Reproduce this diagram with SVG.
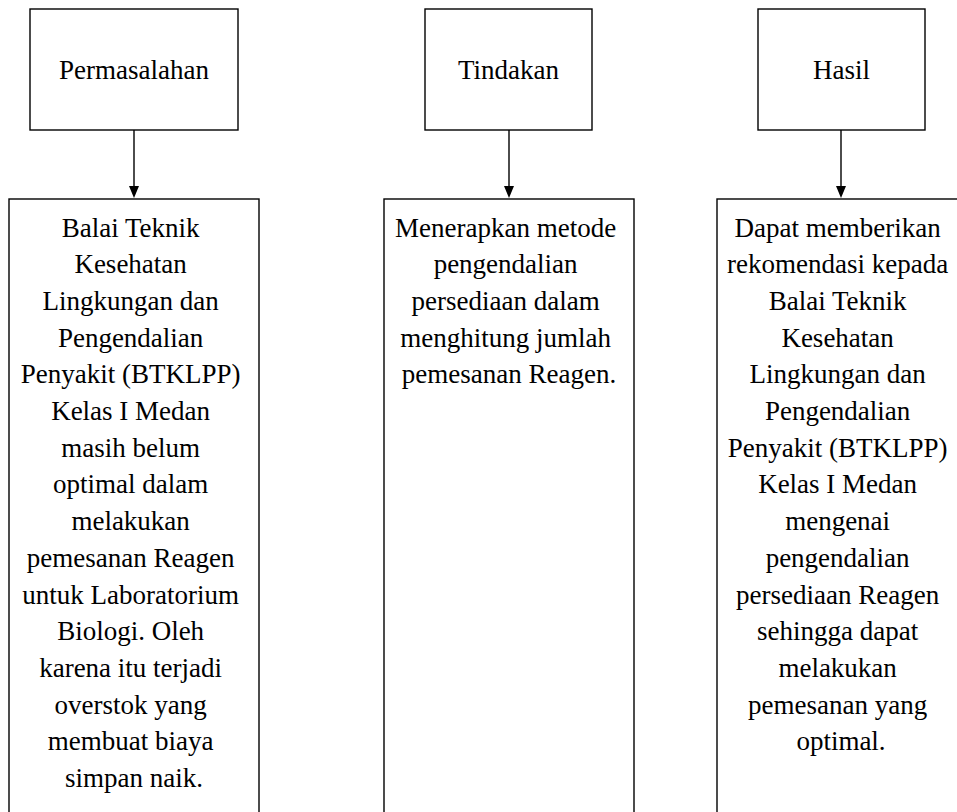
<svg xmlns="http://www.w3.org/2000/svg" width="957" height="812" viewBox="0 0 957 812">
<defs>
<marker id="arr" markerWidth="10" markerHeight="12" refX="5" refY="12" orient="auto-start-reverse" markerUnits="userSpaceOnUse" viewBox="0 0 10 12">
<path d="M0,0 L10,0 L5,12 Z" fill="#000"/>
</marker>
<style>
.box{fill:#fff;stroke:#000;stroke-width:1.4}
.t{font-family:"Liberation Serif","Times New Roman",serif;font-size:27px;fill:#000;text-anchor:middle}
.c{stroke:#000;stroke-width:1.4;fill:none}
</style>
</defs>
<rect width="957" height="812" fill="#fff"/>
<g id="connectors">
<line class="c" x1="134" y1="130" x2="134" y2="186"/>
<path d="M129,186 L139,186 L134,198 Z" fill="#000"/>
<line class="c" x1="509" y1="130" x2="509" y2="186"/>
<path d="M504,186 L514,186 L509,198 Z" fill="#000"/>
<line class="c" x1="841" y1="130" x2="841" y2="186"/>
<path d="M836,186 L846,186 L841,198 Z" fill="#000"/>
</g>
<g id="permasalahan">
<rect class="box" x="30" y="9" width="208" height="121"/>
<text class="t" x="134" y="79">Permasalahan</text>
</g>
<g id="tindakan">
<rect class="box" x="425" y="9" width="167" height="121"/>
<text class="t" x="508.5" y="79">Tindakan</text>
</g>
<g id="hasil">
<rect class="box" x="758" y="9" width="167" height="121"/>
<text class="t" x="841.5" y="79">Hasil</text>
</g>
<g id="permasalahan-detail">
<rect class="box" x="9" y="199" width="250" height="640"/>
<text class="t">
<tspan x="134" y="236.5">Balai Teknik</tspan>
<tspan x="134" y="273.2">Kesehatan</tspan>
<tspan x="134" y="309.9">Lingkungan dan</tspan>
<tspan x="134" y="346.6">Pengendalian</tspan>
<tspan x="134" y="383.3">Penyakit (BTKLPP)</tspan>
<tspan x="134" y="420">Kelas I Medan</tspan>
<tspan x="134" y="456.7">masih belum</tspan>
<tspan x="134" y="493.4">optimal dalam</tspan>
<tspan x="134" y="530.1">melakukan</tspan>
<tspan x="134" y="566.8">pemesanan Reagen</tspan>
<tspan x="134" y="603.5">untuk Laboratorium</tspan>
<tspan x="134" y="640.2">Biologi. Oleh</tspan>
<tspan x="134" y="676.9">karena itu terjadi</tspan>
<tspan x="134" y="713.6">overstok yang</tspan>
<tspan x="134" y="750.3">membuat biaya</tspan>
<tspan x="134" y="787">simpan naik.</tspan>
</text>
</g>
<g id="tindakan-detail">
<rect class="box" x="384" y="199" width="250" height="640"/>
<text class="t">
<tspan x="509" y="236.5">Menerapkan metode</tspan>
<tspan x="509" y="273.2">pengendalian</tspan>
<tspan x="509" y="309.9">persediaan dalam</tspan>
<tspan x="509" y="346.6">menghitung jumlah</tspan>
<tspan x="509" y="383.3">pemesanan Reagen.</tspan>
</text>
</g>
<g id="hasil-detail">
<rect class="box" x="717" y="199" width="250" height="640"/>
<text class="t">
<tspan x="841" y="236.5">Dapat memberikan</tspan>
<tspan x="841" y="273.2">rekomendasi kepada</tspan>
<tspan x="841" y="309.9">Balai Teknik</tspan>
<tspan x="841" y="346.6">Kesehatan</tspan>
<tspan x="841" y="383.3">Lingkungan dan</tspan>
<tspan x="841" y="420">Pengendalian</tspan>
<tspan x="841" y="456.7">Penyakit (BTKLPP)</tspan>
<tspan x="841" y="493.4">Kelas I Medan</tspan>
<tspan x="841" y="530.1">mengenai</tspan>
<tspan x="841" y="566.8">pengendalian</tspan>
<tspan x="841" y="603.5">persediaan Reagen</tspan>
<tspan x="841" y="640.2">sehingga dapat</tspan>
<tspan x="841" y="676.9">melakukan</tspan>
<tspan x="841" y="713.6">pemesanan yang</tspan>
<tspan x="841" y="750.3">optimal.</tspan>
</text>
</g>
</svg>
